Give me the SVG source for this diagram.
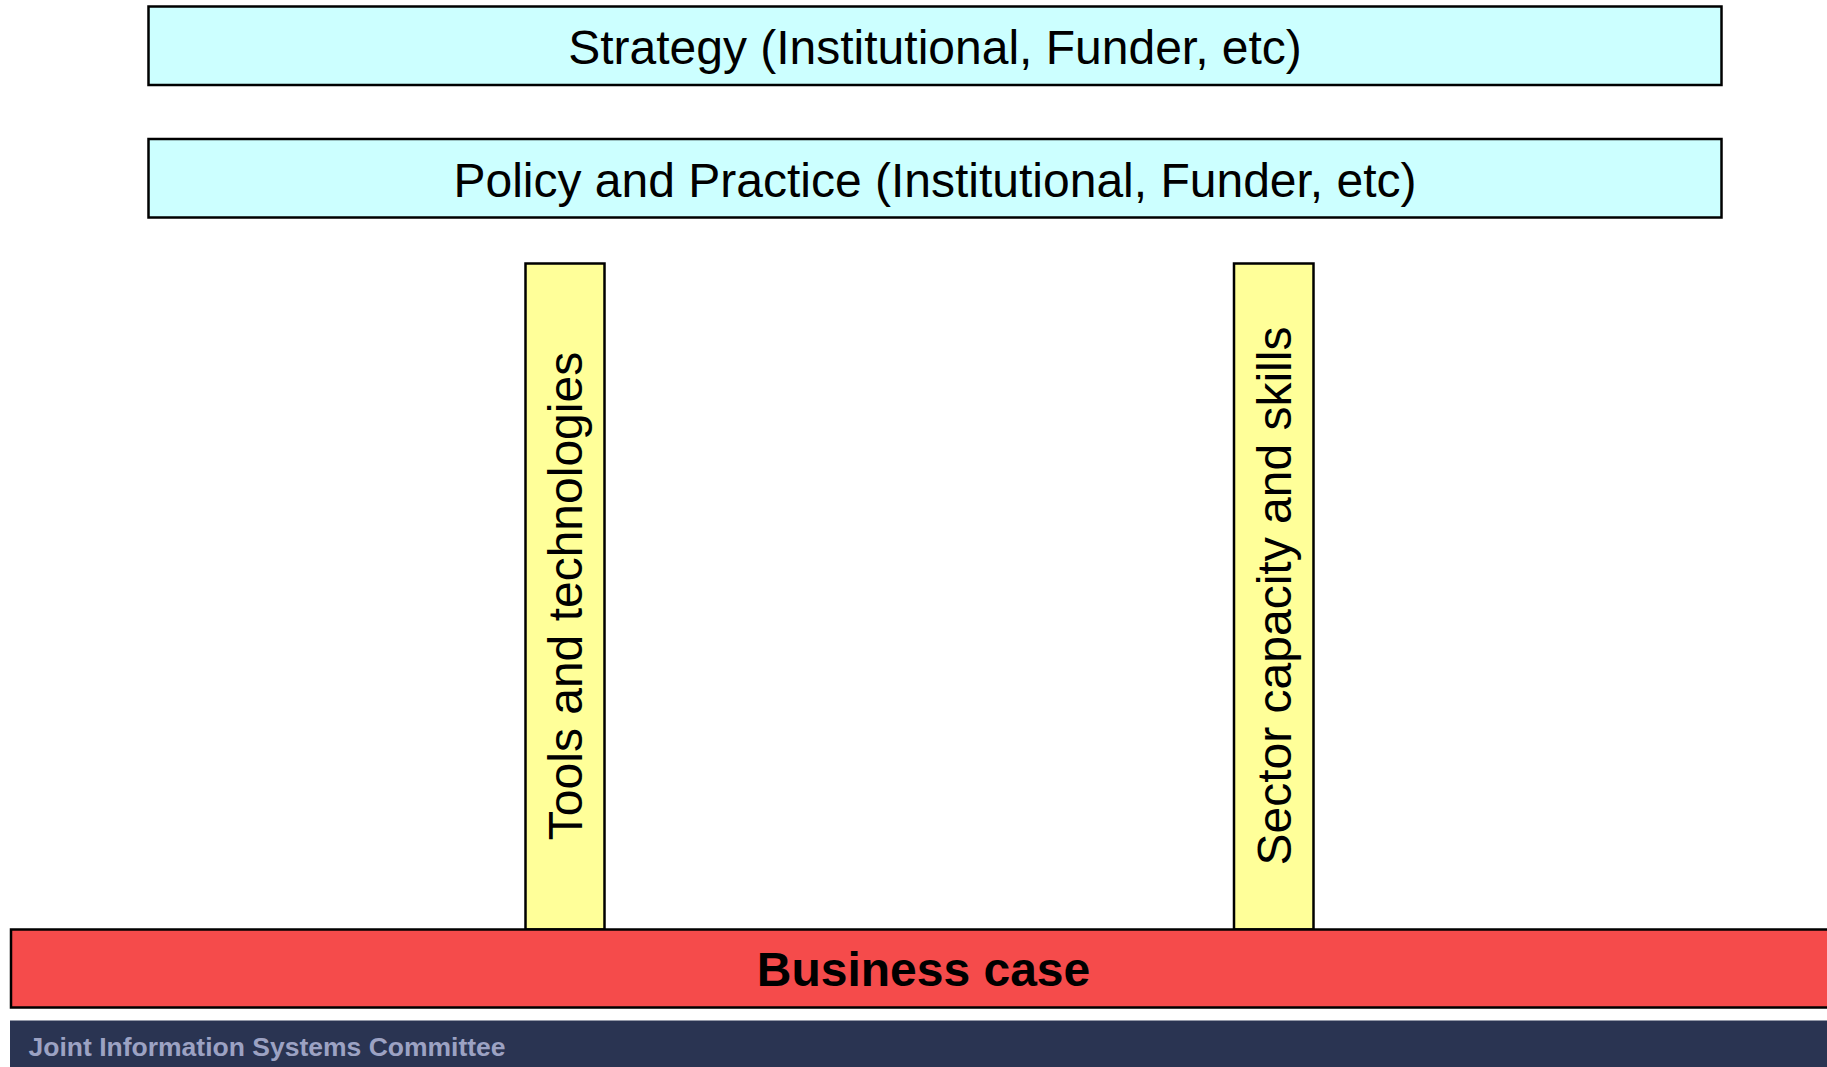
<svg xmlns="http://www.w3.org/2000/svg" width="1827" height="1067" viewBox="0 0 1827 1067">
<style>
.box{stroke:#000;stroke-width:2.5}
.cyan{fill:#CCFFFF}
.yel{fill:#FFFF99}
.red{fill:#F54B4B}
.t{font-family:"Liberation Sans",Arial,sans-serif;font-size:48px;fill:#000;text-anchor:middle}
.b{font-weight:bold}
.foot{font-family:"Liberation Sans",Arial,sans-serif;font-size:26.5px;font-weight:bold;fill:#9CA2C3}
</style>
<rect width="1827" height="1067" fill="#fff"/>
<g id="strategy">
<rect class="box cyan" x="148.5" y="6.5" width="1573" height="78.5"/>
<text class="t" x="935" y="64">Strategy (Institutional, Funder, etc)</text>
</g>
<g id="policy">
<rect class="box cyan" x="148.5" y="139" width="1573" height="78.5"/>
<text class="t" x="935" y="197">Policy and Practice (Institutional, Funder, etc)</text>
</g>
<g id="tools">
<rect class="box yel" x="525.5" y="263.5" width="79" height="666"/>
<text class="t" transform="translate(582,596) rotate(-90)">Tools and technologies</text>
</g>
<g id="sector">
<rect class="box yel" x="1234" y="263.5" width="79.5" height="666"/>
<text class="t" transform="translate(1291,596) rotate(-90)">Sector capacity and skills</text>
</g>
<g id="business">
<rect class="box red" x="11" y="929.5" width="1830" height="78"/>
<text class="t b" x="923.5" y="986">Business case</text>
</g>
<g id="footer">
<rect x="10" y="1020.5" width="1817" height="47" fill="#2A3452"/>
<text class="foot" x="28.5" y="1056">Joint Information Systems Committee</text>
</g>
<g id="connectors"></g>
</svg>
